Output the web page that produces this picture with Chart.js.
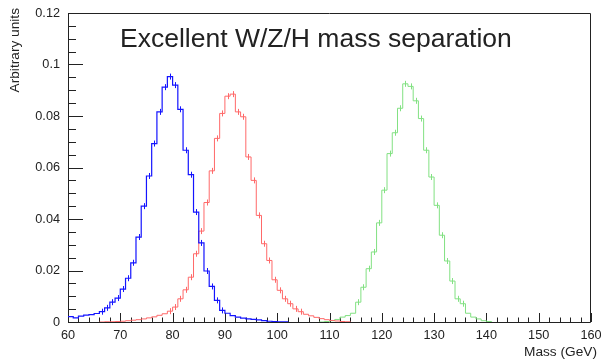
<!DOCTYPE html>
<html>
<head>
<meta charset="utf-8">
<script src="https://cdn.jsdelivr.net/npm/chart.js@4.4.1/dist/chart.umd.min.js"></script>
<style>
  html, body { margin: 0; padding: 0; background: #fff; }
  #wrap { width: 601px; height: 360px; }
</style>
</head>
<body>
<div id="wrap"><canvas id="massChart" width="601" height="360"></canvas></div>
<script>
// Histogram bins are 1 GeV wide; each series lists its contents from its first bin edge
const binWidth = 1;

const wStart = 60;
const wValues = [
    0.0021, 0.0016, 0.0023, 0.0027, 0.0029, 0.0033, 0.0040, 0.0055, 0.0077, 0.0093,
    0.0128, 0.0170, 0.0230, 0.0330, 0.0450, 0.0567, 0.0693, 0.0816, 0.0912, 0.0953,
    0.0920, 0.0826, 0.0667, 0.0572, 0.0427, 0.0307, 0.0198, 0.0138, 0.0084, 0.0045,
    0.0034, 0.0025, 0.0019, 0.0015, 0.0012, 0.0010, 0.0008, 0.0005, 0.0003, 0.0002,
    0.0001, 0.0001, 0
];

const zStart = 66;
const zValues = [
    0, 0.0001, 0.0001, 0.0002, 0.0003, 0.0005, 0.0007, 0.0009, 0.0012, 0.0016,
    0.0020, 0.0026, 0.0032, 0.0042, 0.0058, 0.0090, 0.0125, 0.0174, 0.0265, 0.0353,
    0.0464, 0.0587, 0.0713, 0.0810, 0.0877, 0.0885, 0.0816, 0.0797, 0.0641, 0.0550,
    0.0414, 0.0304, 0.0239, 0.0164, 0.0123, 0.0090, 0.0071, 0.0051, 0.0040, 0.0030,
    0.0024, 0.0018, 0.0013, 0.0009, 0.0006, 0.0004, 0.0002, 0.0001, 0
];

const hStart = 108;
const hValues = [
    0, 0.0002, 0.0005, 0.0010, 0.0019, 0.0025, 0.0034, 0.0077, 0.0135, 0.0207,
    0.0272, 0.0385, 0.0512, 0.0654, 0.0735, 0.0830, 0.0925, 0.0915, 0.0859, 0.0790,
    0.0667, 0.0563, 0.0453, 0.0337, 0.0237, 0.0159, 0.0090, 0.0071, 0.0034, 0.0019,
    0.0012, 0.0005, 0.0002, 0
];

const xTickValues = [60, 70, 80, 90, 100, 110, 120, 130, 140, 150, 160];
const yTickValues = [0, 0.02, 0.04, 0.06, 0.08, 0.1, 0.12];

const titleText = 'Excellent W/Z/H mass separation';
const xTitle = 'Mass (GeV)';
const yTitle = 'Arbitrary units';

const textColor = '#222';
const fontFamily = "'Liberation Sans', Arial, Helvetica, sans-serif";

// Turn bin contents into step points at the low bin edges
function toPoints(start, values) {
    return values.map((v, i) => ({ x: start + i * binWidth, y: v }));
}

function histDataset(start, values, color, width) {
    return {
        data: toPoints(start, values),
        borderColor: color,
        borderWidth: width,
        stepped: 'before',   // horizontal at this bin's value, then vertical at the next edge
        pointRadius: 0,
        fill: false,
        tension: 0
    };
}

// ROOT style frame with inward ticks
const framePlugin = {
    id: 'frame',
    beforeDatasetsDraw(chart) {
        const { ctx, chartArea: a, scales } = chart;
        const xs = scales.x, ys = scales.y;
        ctx.save();
        ctx.strokeStyle = '#222';
        ctx.lineWidth = 1;
        ctx.beginPath();
        ctx.rect(Math.round(a.left) + 0.5, Math.round(a.top) + 0.5,
                 Math.round(a.right - a.left) - 1, Math.round(a.bottom - a.top));
        ctx.stroke();

        ctx.beginPath();
        // x ticks: major every 10, minor every 2
        for (let m = 60; m <= 160; m += 2) {
            const px = Math.round(xs.getPixelForValue(m)) + 0.5;
            const len = (m % 10 === 0) ? 9 : 4.5;
            ctx.moveTo(px, a.bottom);
            ctx.lineTo(px, a.bottom - len);
        }
        // y ticks: major every 0.02, minor every 0.005
        for (let k = 0; k <= 24; k++) {
            const py = Math.round(ys.getPixelForValue(k * 0.005)) + 0.5;
            const len = (k % 4 === 0) ? 15 : 8;
            ctx.moveTo(a.left, py);
            ctx.lineTo(a.left + len, py);
        }
        ctx.stroke();
        ctx.restore();
    },
    afterDatasetsDraw(chart) {
        const { ctx, scales } = chart;
        // small error bars at bin centres
        chart.data.datasets.forEach(ds => {
            ctx.save();
            ctx.strokeStyle = ds.borderColor;
            ctx.lineWidth = 1;
            ctx.beginPath();
            ds.data.forEach(p => {
                if (p.y < 0.004) return;
                const px = Math.round(scales.x.getPixelForValue(p.x + binWidth / 2)) + 0.5;
                const py = scales.y.getPixelForValue(p.y);
                ctx.moveTo(px, py - 3);
                ctx.lineTo(px, py + 3);
            });
            ctx.stroke();
            ctx.restore();
        });
    },
    afterDraw(chart) {
        const { ctx } = chart;
        ctx.save();
        ctx.fillStyle = textColor;

        ctx.font = '26.5px ' + fontFamily;
        ctx.textAlign = 'left';
        ctx.textBaseline = 'alphabetic';
        ctx.fillText(titleText, 120, 47);

        ctx.font = '13.7px ' + fontFamily;
        ctx.textAlign = 'right';
        ctx.fillText(xTitle, 597, 356);

        ctx.translate(15, 8);
        ctx.rotate(-Math.PI / 2);
        ctx.textAlign = 'right';
        ctx.textBaseline = 'middle';
        ctx.fillText(yTitle, 0, 0);
        ctx.restore();
    }
};

const ctx = document.getElementById('massChart').getContext('2d');
const massChart = new Chart(ctx, {
    type: 'line',
    data: {
        datasets: [
            histDataset(wStart, wValues, 'rgb(20, 20, 255)', 1.2),
            histDataset(zStart, zValues, 'rgb(255, 105, 105)', 1),
            histDataset(hStart, hValues, 'rgb(130, 225, 130)', 1)
        ]
    },
    options: {
        responsive: false,
        animation: false,
        devicePixelRatio: 1,
        layout: { padding: { left: 0, top: 13, right: 10, bottom: 0 } },
        plugins: {
            legend: { display: false },
            tooltip: { enabled: false }
        },
        scales: {
            x: {
                type: 'linear',
                min: 60,
                max: 160,
                afterFit(s) {
                    s.height = 38;
                    s.paddingLeft = 0;
                    s.paddingRight = 0;
                },
                afterBuildTicks(s) { s.ticks = xTickValues.map(v => ({ value: v })); },
                grid: { display: false, drawTicks: false },
                border: { display: false },
                ticks: {
                    color: textColor,
                    padding: 6,
                    maxRotation: 0,
                    font: { family: fontFamily, size: 12.7 },
                    callback: v => String(v)
                }
            },
            y: {
                min: 0,
                max: 0.12,
                afterFit(s) {
                    s.width = 68;
                    s.paddingTop = 0;
                    s.paddingBottom = 0;
                },
                afterBuildTicks(s) { s.ticks = yTickValues.map(v => ({ value: v })); },
                grid: { display: false, drawTicks: false },
                border: { display: false },
                ticks: {
                    color: textColor,
                    padding: 8,
                    font: { family: fontFamily, size: 12.7 },
                    callback: v => String(+v.toFixed(3))
                }
            }
        }
    },
    plugins: [framePlugin]
});
</script>
</body>
</html>
